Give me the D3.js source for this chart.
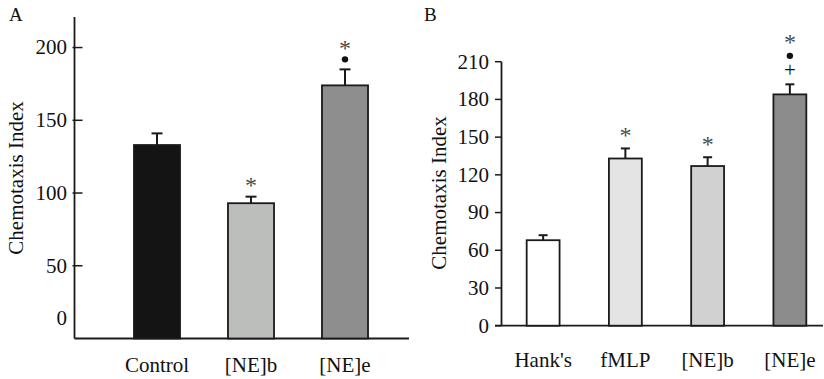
<!DOCTYPE html>
<html>
<head>
<meta charset="utf-8">
<script src="https://cdn.jsdelivr.net/npm/d3@7/dist/d3.min.js"></script>
<style>
  html, body { margin: 0; padding: 0; background: #fff; }
  svg { display: block; }
  text { font-family: "Liberation Serif", "Times New Roman", serif; fill: #111; }
</style>
</head>
<body>
<svg id="chart" width="824" height="379"></svg>
<script>
// Panel A: chemotaxis index by treatment
const catsA = ["Control", "[NE]b", "[NE]e"];
const meanA = [133, 93, 174];
const errA = [8, 4.5, 11];
const fillA = ["#141414", "#bcbebc", "#8e8e8e"];
const marksA = [[], ["*"], ["*", "•"]];
const ticksA = [0, 50, 100, 150, 200];

// Panel B: chemotaxis index including buffer and fMLP controls
const catsB = ["Hank's", "fMLP", "[NE]b", "[NE]e"];
const meanB = [68, 133, 127, 184];
const errB = [4, 8, 7, 8];
const fillB = ["#ffffff", "#e4e4e4", "#d0d1d0", "#8c8c8c"];
const marksB = [[], ["*"], ["*"], ["*", "•", "+"]];
const ticksB = [0, 30, 60, 90, 120, 150, 180, 210];

const svg = d3.select("#chart");
const FONT = 21;

function panel(opts) {
  const g = svg.append("g");
  const x = d3.scaleBand().domain(opts.cats).range(opts.xRange).paddingInner(opts.padIn).paddingOuter(opts.padOut);
  const y = d3.scaleLinear().domain(opts.yDomain).range(opts.yRange);
  const base = y(0);

  // y axis line
  g.append("line")
    .attr("x1", opts.axisX).attr("x2", opts.axisX)
    .attr("y1", y(opts.yDomain[1])).attr("y2", base)
    .attr("stroke", "#1a1a1a").attr("stroke-width", 1.8);
  // x axis line
  g.append("line")
    .attr("x1", opts.axisX + opts.xLineStart).attr("x2", opts.xLineEnd)
    .attr("y1", base).attr("y2", base)
    .attr("stroke", "#1a1a1a").attr("stroke-width", 1.8);

  // ticks and tick labels
  const tk = g.selectAll("g.tick").data(opts.ticks).enter().append("g")
    .attr("transform", d => `translate(0,${y(d)})`);
  tk.filter(d => d !== 0 || opts.zeroTick)
    .append("line")
    .attr("x1", opts.axisX + opts.tickOut).attr("x2", opts.axisX + opts.tickIn)
    .attr("stroke", "#1a1a1a").attr("stroke-width", 1.5);
  tk.append("text")
    .attr("x", opts.labelX)
    .attr("y", d => (d === 0 ? opts.zeroShift : 0))
    .attr("dy", "0.33em")
    .attr("text-anchor", "end")
    .attr("font-size", FONT)
    .text(d => d);

  // y title
  g.append("text")
    .attr("transform", `translate(${opts.titleX},${opts.titleY}) rotate(-90)`)
    .attr("text-anchor", "middle")
    .attr("font-size", FONT)
    .text("Chemotaxis Index");

  // panel letter
  g.append("text")
    .attr("x", opts.letterX).attr("y", 21)
    .attr("font-size", 19)
    .text(opts.letter);

  // category labels
  g.selectAll("text.cat").data(opts.cats).enter().append("text")
    .attr("x", d => x(d) + x.bandwidth() / 2)
    .attr("y", opts.catY)
    .attr("text-anchor", "middle")
    .attr("font-size", FONT)
    .text(d => d);

  const rows = opts.cats.map((c, i) => ({ c, m: opts.mean[i], e: opts.err[i], f: opts.fill[i], k: opts.marks[i] }));

  // error bars (upper only)
  const eb = g.selectAll("g.err").data(rows).enter().append("g");
  eb.append("line")
    .attr("x1", d => x(d.c) + x.bandwidth() / 2).attr("x2", d => x(d.c) + x.bandwidth() / 2)
    .attr("y1", d => y(d.m)).attr("y2", d => y(d.m + d.e))
    .attr("stroke", "#1a1a1a").attr("stroke-width", 2);
  eb.append("line")
    .attr("x1", d => x(d.c) + x.bandwidth() / 2 - opts.cap / 2)
    .attr("x2", d => x(d.c) + x.bandwidth() / 2 + opts.cap / 2)
    .attr("y1", d => y(d.m + d.e)).attr("y2", d => y(d.m + d.e))
    .attr("stroke", "#1a1a1a").attr("stroke-width", 2);

  // bars
  g.selectAll("rect.bar").data(rows).enter().append("rect")
    .attr("x", d => x(d.c)).attr("width", x.bandwidth())
    .attr("y", d => y(d.m)).attr("height", d => base - y(d.m))
    .attr("fill", d => d.f)
    .attr("stroke", "#1a1a1a").attr("stroke-width", 1.8);

  // significance marks stacked above each error bar
  rows.forEach(d => {
    const cx = x(d.c) + x.bandwidth() / 2;
    let yy = y(d.m + d.e);
    d.k.slice().reverse().forEach(s => {
      yy -= opts.gap[s];
      if (s === "•") {
        g.append("circle").attr("cx", cx).attr("cy", yy).attr("r", 3.2).attr("fill", "#111");
      } else if (s === "+") {
        g.append("text").attr("x", cx).attr("y", yy).attr("dy", "0.33em")
          .attr("text-anchor", "middle").attr("font-size", FONT).text("+");
      } else {
        g.append("text").attr("x", cx).attr("y", yy).attr("dy", "0.45em")
          .attr("text-anchor", "middle").attr("font-size", 24)
          .style("fill", "#4a4a4a").text("*");
      }
    });
  });
}

panel({
  letter: "A", letterX: 9,
  cats: catsA, mean: meanA, err: errA, fill: fillA, marks: marksA, ticks: ticksA,
  xRange: [110, 392], padIn: 0.51, padOut: 0.255,
  yDomain: [0, 221], yRange: [338.5, 17],
  axisX: 74.5, xLineStart: 0, xLineEnd: 409,
  tickOut: -2, tickIn: 8, zeroTick: false, zeroShift: -20,
  labelX: 67, titleX: 23, titleY: 178, catY: 372,
  cap: 11, gap: { "*": 14, "•": 10, "+": 14 }
});

panel({
  letter: "B", letterX: 424,
  cats: catsB, mean: meanB, err: errB, fill: fillB, marks: marksB, ticks: ticksB,
  xRange: [502, 831], padIn: 0.6, padOut: 0.3,
  yDomain: [0, 210], yRange: [325.7, 61.7],
  axisX: 501.5, xLineStart: -6.5, xLineEnd: 823,
  tickOut: -6.5, tickIn: 0, zeroTick: true, zeroShift: 0,
  labelX: 489, titleX: 446, titleY: 193, catY: 367,
  cap: 9, gap: { "*": 16.5, "•": 14.5, "+": 14 }
});
</script>
</body>
</html>
